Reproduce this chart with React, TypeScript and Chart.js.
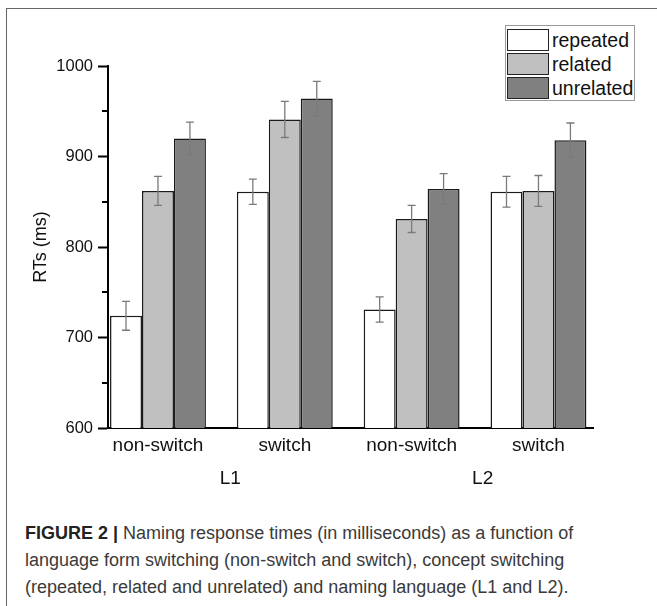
import React, { useEffect, useRef } from 'react';
import { Chart, registerables } from 'chart.js';

Chart.register(...registerables);

const categories = ['non-switch', 'switch', 'non-switch', 'switch'];
const languages = ['L1', 'L2'];
const languagePositions = [0.57, 2.56];
const seriesNames = ['repeated', 'related', 'unrelated'];
const repeated = [724, 861, 731, 861];
const related = [862, 941, 831, 862];
const unrelated = [920, 964, 864, 918];
const repeatedErr = [16, 14, 14, 17];
const relatedErr = [16, 20, 15, 17];
const unrelatedErr = [18, 19, 17, 19];
const yTicks = [600, 700, 800, 900, 1000];
const yMinorTicks = [650, 750, 850, 950];
const colors = ['#ffffff', '#c0c0c0', '#808080'];

const seriesValues = [repeated, related, unrelated];
const seriesErrors = [repeatedErr, relatedErr, unrelatedErr];

const FONT = '"Liberation Sans", Arial, sans-serif';

const errorBarPlugin = {
  id: 'errorBars',
  afterDatasetsDraw(chart: any) {
    const ctx = chart.ctx;
    const yScale = chart.scales.y;
    ctx.save();
    ctx.strokeStyle = '#7a7a7a';
    ctx.lineWidth = 1.3;
    seriesValues.forEach((vals, i) => {
      const meta = chart.getDatasetMeta(i);
      meta.data.forEach((bar: any, j: number) => {
        const v = vals[j];
        const e = seriesErrors[i][j];
        const top = yScale.getPixelForValue(v + e);
        const bottom = yScale.getPixelForValue(v - e);
        const x = bar.x;
        const cap = 4;
        ctx.beginPath();
        ctx.moveTo(x, top);
        ctx.lineTo(x, bottom);
        ctx.moveTo(x - cap, top);
        ctx.lineTo(x + cap, top);
        ctx.moveTo(x - cap, bottom);
        ctx.lineTo(x + cap, bottom);
        ctx.stroke();
      });
    });
    ctx.restore();
  },
};

const minorTickPlugin = {
  id: 'minorTicks',
  afterDraw(chart: any) {
    const ctx = chart.ctx;
    const yScale = chart.scales.y;
    const left = chart.chartArea.left;
    ctx.save();
    ctx.strokeStyle = '#000';
    ctx.lineWidth = 2;
    yMinorTicks.forEach((v) => {
      const py = Math.round(yScale.getPixelForValue(v));
      ctx.beginPath();
      ctx.moveTo(left - 6, py);
      ctx.lineTo(left, py);
      ctx.stroke();
    });
    ctx.restore();
  },
};

export default function App() {
  const canvasRef = useRef<HTMLCanvasElement | null>(null);

  useEffect(() => {
    if (!canvasRef.current) return;
    const chart = new Chart(canvasRef.current, {
      type: 'bar',
      data: {
        datasets: seriesNames.map((name, i) => ({
          label: name,
          data: seriesValues[i].map((v, j) => ({ x: j, y: v })),
          backgroundColor: colors[i],
          borderColor: '#1a1a1a',
          borderWidth: 1.5,
          categoryPercentage: 0.756,
          barPercentage: 1,
        })),
      },
      options: {
        animation: false,
        responsive: false,
        devicePixelRatio: 1,
        layout: { padding: { left: 0, right: 64, top: 66, bottom: 0 } },
        plugins: {
          legend: { display: false },
          tooltip: { enabled: false },
        },
        scales: {
          x: {
            type: 'linear',
            min: -0.394,
            max: 3.43,
            offset: false,
            position: 'bottom',
            grid: { display: false, drawTicks: false },
            border: { display: true, color: '#000', width: 2 },
            afterBuildTicks: (axis: any) => {
              axis.ticks = categories.map((_, j) => ({ value: j }));
            },
            afterFit: (axis: any) => {
              axis.height = 32;
            },
            ticks: {
              autoSkip: false,
              maxRotation: 0,
              padding: 6,
              color: '#111',
              font: { family: FONT, size: 19 },
              callback: (_v: any, index: number) => categories[index],
            },
          },
          x2: {
            type: 'linear',
            min: -0.394,
            max: 3.43,
            offset: false,
            position: 'bottom',
            grid: { display: false, drawTicks: false },
            border: { display: false },
            afterBuildTicks: (axis: any) => {
              axis.ticks = languagePositions.map((p) => ({ value: p }));
            },
            afterFit: (axis: any) => {
              axis.height = 40;
            },
            ticks: {
              autoSkip: false,
              maxRotation: 0,
              padding: 7,
              color: '#111',
              font: { family: FONT, size: 19 },
              callback: (_v: any, index: number) => languages[index],
            },
          },
          y: {
            type: 'linear',
            min: 600,
            max: 1000,
            grid: { display: true, drawOnChartArea: false, tickLength: 10, tickWidth: 2, tickColor: '#000' },
            border: { display: true, color: '#000', width: 2 },
            afterBuildTicks: (axis: any) => {
              axis.ticks = yTicks.map((v) => ({ value: v }));
            },
            afterFit: (axis: any) => {
              axis.width = 108;
            },
            ticks: {
              padding: 5,
              color: '#111',
              font: { family: FONT, size: 16.5 },
              callback: (v: any) => String(v),
            },
            title: {
              display: true,
              text: 'RTs (ms)',
              color: '#111',
              padding: { top: 30, bottom: 0 },
              font: { family: FONT, size: 18 },
            },
          },
        },
      },
      plugins: [errorBarPlugin, minorTickPlugin],
    } as any);
    return () => chart.destroy();
  }, []);

  return (
    <div
      style={{
        position: 'absolute',
        left: 0,
        top: 0,
        width: 657,
        height: 606,
        overflow: 'hidden',
        background: '#fff',
      }}
    >
      <div
        style={{
          position: 'absolute',
          left: 6,
          top: 8,
          width: 700,
          height: 700,
          borderLeft: '1px solid #666',
          borderTop: '1px solid #666',
        }}
      />
      <canvas
        ref={canvasRef}
        width={657}
        height={500}
        style={{ position: 'absolute', left: 0, top: 0, width: 657, height: 500 }}
      />
      <div
        style={{
          position: 'absolute',
          left: 505,
          top: 25,
          width: 130,
          height: 76,
          boxSizing: 'border-box',
          border: '1px solid #999',
          background: '#fff',
        }}
      >
        {seriesNames.map((name, i) => (
          <div
            key={name}
            style={{ position: 'absolute', left: 1, top: 3 + i * 24, height: 22, display: 'flex', alignItems: 'center' }}
          >
            <div
              style={{
                width: 42,
                height: 22,
                boxSizing: 'border-box',
                border: '1.5px solid #222',
                background: colors[i],
              }}
            />
            <span
              style={{
                marginLeft: 3,
                fontFamily: FONT,
                fontSize: 19.5,
                color: '#111',
                lineHeight: '22px',
                whiteSpace: 'nowrap',
              }}
            >
              {name}
            </span>
          </div>
        ))}
      </div>
      <div
        style={{
          position: 'absolute',
          left: 25,
          top: 520,
          width: 630,
          fontFamily: FONT,
          fontSize: 18,
          lineHeight: '27px',
          color: '#3a3a3a',
          whiteSpace: 'nowrap',
        }}
      >
        <span style={{ fontWeight: 'bold', color: '#222' }}>FIGURE 2 |</span> Naming response times (in milliseconds) as a function of
        <br />
        language form switching (non-switch and switch), concept switching
        <br />
        (repeated, related and unrelated) and naming language (L1 and L2).
      </div>
    </div>
  );
}
